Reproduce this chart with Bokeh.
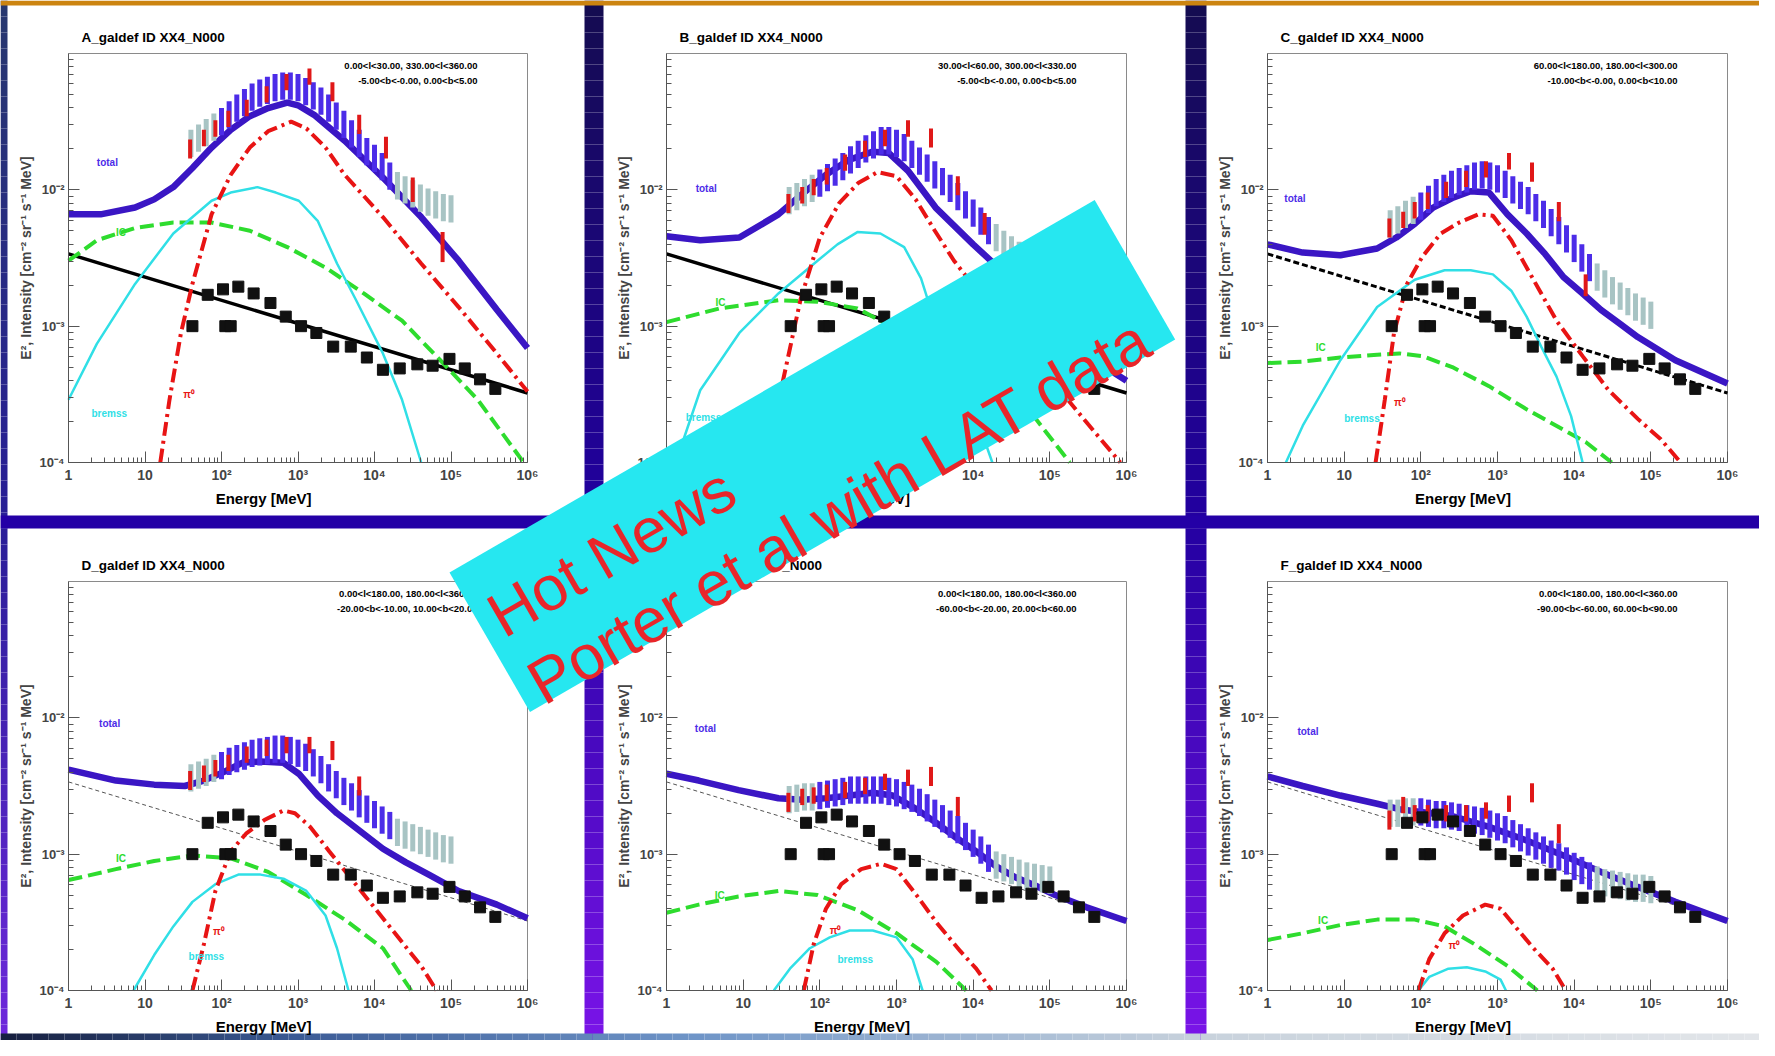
import numpy as np
from bokeh.plotting import figure
from bokeh.models import Range1d, LogScale, LogAxis, FixedTicker, CustomJSTickFormatter
from bokeh.embed import file_html
from bokeh.resources import INLINE
from bokeh.core.properties import value

# ======================= DATA (log10 values) =======================
x_tick_values = [1, 10, 100, 1e3, 1e4, 1e5, 1e6]
y_tick_values = [1e-4, 1e-3, 1e-2]

# shared across panels
iso_logE = [0.0, 6.0]
iso_logI = [-2.47, -3.49]
sq_logE = [1.62, 2.05, 2.12, 1.82, 2.02, 2.22, 2.42, 2.64, 2.84, 3.04, 3.24, 3.46, 3.69, 3.90, 4.11,
           4.33, 4.56, 4.76, 4.98, 5.18, 5.38, 5.58]
sq_logI = [-3.0, -3.0, -3.0, -2.77, -2.73, -2.71, -2.76, -2.83, -2.93, -3.0, -3.05, -3.15, -3.15, -3.23,
           -3.32, -3.31, -3.28, -3.29, -3.24, -3.31, -3.39, -3.46]
egret_logE = [1.59, 1.77, 1.92, 2.09, 2.33, 2.59, 2.85, 3.15, 3.45, 3.80, 4.15, 4.50, 4.89]
egret_err = [0.07, 0.06, 0.06, 0.06, 0.06, 0.06, 0.06, 0.06, 0.07, 0.07, 0.08, 0.09, 0.11]
lat_logE = [1.6, 1.7, 1.8, 1.9, 2.0, 2.1, 2.2, 2.3, 2.4, 2.5, 2.6, 2.7, 2.8, 2.9, 3.0, 3.1, 3.2, 3.3,
            3.4, 3.5, 3.6, 3.7, 3.8, 3.9, 4.0, 4.1, 4.2, 4.3, 4.4, 4.5, 4.6, 4.7, 4.8, 4.9, 5.0]
lat_is_grey = [1, 1, 1, 1] + [0] * 23 + [1] * 8
lat_err = 0.1

# ---- Panel A
A_total_logE = [0, 0.42, 0.87, 1.12, 1.37, 1.62, 1.87, 2.12, 2.37, 2.61, 2.86, 3.0, 3.21, 3.61, 4.11, 4.61, 5.1, 5.6, 6.0]
A_total_logI = [-2.18, -2.18, -2.13, -2.07, -1.98, -1.84, -1.69, -1.56, -1.46, -1.40, -1.36, -1.38, -1.45, -1.64, -1.91, -2.20, -2.52, -2.88, -3.16]
A_pi0_logE = [1.2, 1.32, 1.47, 1.62, 1.87, 2.12, 2.37, 2.61, 2.91, 3.11, 3.36, 3.61, 4.11, 4.61, 5.1, 5.6, 6.0]
A_pi0_logI = [-4.0, -3.54, -3.05, -2.69, -2.18, -1.89, -1.69, -1.57, -1.50, -1.55, -1.69, -1.89, -2.20, -2.54, -2.86, -3.20, -3.48]
A_brem_logE = [0, 0.37, 0.87, 1.37, 1.87, 2.12, 2.47, 2.71, 3.01, 3.26, 3.51, 3.76, 4.11, 4.36, 4.61]
A_brem_logI = [-3.54, -3.13, -2.69, -2.32, -2.08, -2.02, -1.98, -2.02, -2.08, -2.23, -2.54, -2.81, -3.20, -3.54, -4.0]
A_ic_logE = [0, 0.37, 0.87, 1.37, 1.87, 2.37, 2.86, 3.36, 3.86, 4.36, 4.86, 5.35, 5.95]
A_ic_logI = [-2.52, -2.37, -2.28, -2.24, -2.24, -2.30, -2.42, -2.57, -2.76, -2.96, -3.25, -3.54, -4.0]
A_egret = [-1.70, -1.62, -1.55, -1.48, -1.40, -1.30, -1.21, -1.17, -1.28, -1.52, -1.69, -2.00, -2.42]
A_lat = [-1.66, -1.62, -1.58, -1.54,
         -1.50, -1.45, -1.40, -1.36, -1.32, -1.29, -1.27, -1.25, -1.24, -1.24, -1.25, -1.28, -1.31, -1.35,
         -1.40, -1.46, -1.52, -1.59, -1.66, -1.72, -1.77, -1.83, -1.90,
         -1.97, -2.00, -2.03, -2.06, -2.09, -2.11, -2.13, -2.14]

# ---- Panel B
B_total_logE = [0, 0.44, 0.95, 1.46, 1.77, 2.08, 2.38, 2.69, 2.9, 3.15, 3.51, 4.0, 4.5, 5.0, 5.5, 6.0]
B_total_logI = [-2.34, -2.37, -2.35, -2.18, -2.03, -1.89, -1.78, -1.72, -1.73, -1.86, -2.13, -2.40, -2.66, -2.96, -3.22, -3.40]
B_pi0_logE = [1.3, 1.5, 1.75, 2.0, 2.25, 2.5, 2.75, 3.0, 3.25, 3.5, 3.75, 4.0, 4.5, 5.0, 5.5, 5.92]
B_pi0_logI = [-4.0, -3.45, -2.80, -2.35, -2.10, -1.95, -1.87, -1.90, -2.07, -2.30, -2.52, -2.70, -3.05, -3.38, -3.72, -4.0]
B_brem_logE = [0.12, 0.44, 0.95, 1.46, 1.97, 2.23, 2.49, 2.79, 3.10, 3.32, 3.45, 3.7, 4.0, 4.25]
B_brem_logI = [-4.0, -3.47, -3.05, -2.76, -2.52, -2.40, -2.31, -2.32, -2.42, -2.65, -2.88, -3.2, -3.6, -4.0]
B_ic_logE = [0, 0.69, 1.46, 1.97, 2.49, 2.79, 3.5, 4.2, 4.79, 5.26]
B_ic_logI = [-2.97, -2.87, -2.81, -2.82, -2.87, -2.96, -3.12, -3.35, -3.66, -4.0]
B_egret = [-2.10, -2.04, -1.98, -1.90, -1.80, -1.70, -1.62, -1.55, -1.62, -1.97, -2.25, -2.55, -2.90]
B_lat = [-2.08, -2.05, -2.02, -1.99,
         -1.95, -1.91, -1.87, -1.83, -1.78, -1.74, -1.70, -1.67, -1.64, -1.64, -1.66, -1.69, -1.74, -1.79,
         -1.84, -1.89, -1.94, -1.99, -2.05, -2.11, -2.17, -2.23, -2.30,
         -2.35, -2.40, -2.44, -2.48, -2.51, -2.54, -2.56, -2.58]

# ---- Panel C
C_total_logE = [0, 0.46, 0.95, 1.43, 1.68, 1.92, 2.16, 2.41, 2.65, 2.89, 3.13, 3.38, 3.62, 3.86, 4.11, 4.35, 4.59, 4.83, 5.32, 6.0]
C_total_logI = [-2.40, -2.46, -2.48, -2.43, -2.35, -2.25, -2.13, -2.06, -2.01, -2.02, -2.18, -2.32, -2.47, -2.64, -2.76, -2.88, -2.98, -3.08, -3.25, -3.42]
C_pi0_logE = [1.41, 1.53, 1.65, 1.82, 2.02, 2.26, 2.50, 2.75, 2.94, 3.18, 3.47, 3.77, 4.11, 4.45, 4.83, 5.13, 5.39]
C_pi0_logI = [-4.0, -3.54, -3.05, -2.69, -2.49, -2.32, -2.24, -2.18, -2.19, -2.37, -2.66, -2.96, -3.22, -3.47, -3.68, -3.83, -4.0]
C_brem_logE = [0.24, 0.46, 0.95, 1.43, 1.92, 2.31, 2.65, 2.94, 3.18, 3.38, 3.57, 3.77, 3.96, 4.11]
C_brem_logI = [-4.0, -3.73, -3.25, -2.86, -2.66, -2.59, -2.59, -2.62, -2.74, -2.93, -3.15, -3.37, -3.66, -4.0]
C_ic_logE = [0, 0.46, 0.95, 1.43, 1.72, 2.02, 2.41, 2.89, 3.38, 3.86, 4.15, 4.49]
C_ic_logI = [-3.27, -3.26, -3.23, -3.21, -3.20, -3.22, -3.30, -3.44, -3.61, -3.76, -3.85, -4.0]
C_egret = [-2.28, -2.22, -2.15, -2.08, -2.00, -1.92, -1.85, -1.79, -1.87, -2.16, -2.70]
C_lat = [-2.25, -2.22, -2.18, -2.15,
         -2.12, -2.07, -2.02, -1.99, -1.96, -1.94, -1.92, -1.90, -1.89, -1.90, -1.92, -1.96, -2.00, -2.04,
         -2.08, -2.13, -2.18, -2.24, -2.30, -2.36, -2.43, -2.50, -2.57,
         -2.64, -2.69, -2.74, -2.78, -2.82, -2.86, -2.89, -2.92]

# ---- Panel D
D_total_logE = [0, 0.62, 1.12, 1.52, 1.77, 2.02, 2.27, 2.51, 2.81, 3.01, 3.26, 3.51, 3.81, 4.11, 4.41, 4.71, 5.10, 5.60, 6.0]
D_total_logI = [-2.38, -2.46, -2.49, -2.50, -2.46, -2.40, -2.33, -2.32, -2.33, -2.41, -2.57, -2.70, -2.83, -2.96, -3.06, -3.15, -3.27, -3.37, -3.47]
D_pi0_logE = [1.62, 1.77, 1.92, 2.12, 2.32, 2.56, 2.81, 2.96, 3.16, 3.41, 3.71, 4.01, 4.31, 4.61, 4.81]
D_pi0_logI = [-4.0, -3.66, -3.27, -2.98, -2.85, -2.75, -2.68, -2.70, -2.80, -2.98, -3.19, -3.40, -3.61, -3.82, -4.0]
D_brem_logE = [0.85, 1.12, 1.37, 1.62, 1.92, 2.22, 2.51, 2.81, 3.11, 3.36, 3.51, 3.66]
D_brem_logI = [-4.0, -3.74, -3.53, -3.35, -3.22, -3.15, -3.15, -3.18, -3.27, -3.45, -3.69, -4.0]
D_ic_logE = [0, 0.62, 1.12, 1.62, 2.12, 2.61, 3.11, 3.61, 4.11, 4.48]
D_ic_logI = [-3.19, -3.11, -3.05, -3.01, -3.03, -3.13, -3.30, -3.48, -3.69, -4.0]
D_egret = [-2.46, -2.41, -2.37, -2.33, -2.27, -2.22, -2.20, -2.20, -2.24, -2.50]
D_lat = [-2.44, -2.42, -2.40, -2.37,
         -2.35, -2.32, -2.30, -2.28, -2.26, -2.25, -2.24, -2.23, -2.23, -2.24, -2.26, -2.29, -2.33, -2.38,
         -2.44, -2.49, -2.54, -2.58, -2.63, -2.67, -2.71, -2.75, -2.79,
         -2.84, -2.86, -2.88, -2.90, -2.92, -2.94, -2.96, -2.97]

# ---- Panel E
E_total_logE = [0, 0.42, 0.94, 1.46, 1.77, 2.08, 2.39, 2.69, 2.95, 3.26, 3.52, 3.78, 4.04, 4.30, 4.55, 4.81, 5.07, 5.48, 6.0]
E_total_logI = [-2.41, -2.46, -2.53, -2.59, -2.60, -2.59, -2.57, -2.55, -2.57, -2.67, -2.77, -2.88, -2.98, -3.09, -3.17, -3.23, -3.30, -3.39, -3.49]
E_pi0_logE = [1.79, 1.92, 2.08, 2.28, 2.54, 2.80, 3.0, 3.26, 3.52, 3.83, 4.04, 4.24]
E_pi0_logI = [-4.0, -3.66, -3.40, -3.22, -3.11, -3.07, -3.11, -3.30, -3.50, -3.71, -3.84, -4.0]
E_brem_logE = [1.40, 1.61, 1.87, 2.13, 2.39, 2.69, 3.0, 3.21, 3.34]
E_brem_logI = [-4.0, -3.84, -3.69, -3.61, -3.56, -3.56, -3.61, -3.77, -4.0]
E_ic_logE = [0, 0.42, 0.94, 1.46, 1.97, 2.49, 3.0, 3.52, 3.91]
E_ic_logI = [-3.43, -3.37, -3.31, -3.27, -3.30, -3.41, -3.58, -3.79, -4.0]
E_egret = [-2.62, -2.58, -2.57, -2.55, -2.53, -2.50, -2.47, -2.44, -2.43, -2.65]
E_lat = [-2.60, -2.59, -2.58, -2.58,
         -2.57, -2.56, -2.55, -2.54, -2.53, -2.53, -2.53, -2.53, -2.53, -2.54, -2.55, -2.57, -2.59, -2.62,
         -2.66, -2.70, -2.74, -2.78, -2.82, -2.87, -2.92, -2.97, -3.03,
         -3.08, -3.10, -3.12, -3.14, -3.16, -3.17, -3.18, -3.19]

# ---- Panel F
F_total_logE = [0, 0.46, 0.95, 1.43, 1.72, 2.41, 2.89, 3.38, 3.86, 4.35, 4.83, 5.32, 6.0]
F_total_logI = [-2.43, -2.50, -2.57, -2.63, -2.67, -2.72, -2.80, -2.90, -3.01, -3.13, -3.24, -3.35, -3.49]
F_pi0_logE = [1.97, 2.11, 2.31, 2.55, 2.84, 3.04, 3.23, 3.47, 3.72, 3.89]
F_pi0_logI = [-4.0, -3.77, -3.58, -3.45, -3.37, -3.40, -3.53, -3.69, -3.84, -4.0]
F_brem_logE = [1.97, 2.11, 2.36, 2.60, 2.84, 3.04, 3.11]
F_brem_logI = [-4.0, -3.90, -3.84, -3.83, -3.86, -3.92, -4.0]
F_ic_logE = [0, 0.46, 0.95, 1.43, 1.92, 2.31, 2.70, 3.13, 3.52]
F_ic_logI = [-3.63, -3.58, -3.52, -3.48, -3.48, -3.53, -3.66, -3.82, -4.0]
F_egret = [-2.75, -2.64, -2.70, -2.70, -2.70, -2.70, -2.68, -2.63, -2.55, -2.85]
F_lat = [-2.70, -2.70, -2.69, -2.69,
         -2.69, -2.70, -2.71, -2.71, -2.72, -2.73, -2.74, -2.75, -2.76, -2.78, -2.80, -2.82, -2.85, -2.88,
         -2.91, -2.94, -2.97, -3.00, -3.02, -3.05, -3.09, -3.12, -3.16,
         -3.19, -3.21, -3.22, -3.23, -3.24, -3.25, -3.25, -3.26]

l_text = {"A": "0.00<l<30.00, 330.00<l<360.00", "B": "30.00<l<60.00, 300.00<l<330.00",
          "C": "60.00<l<180.00, 180.00<l<300.00", "D": "0.00<l<180.00, 180.00<l<360.00",
          "E": "0.00<l<180.00, 180.00<l<360.00", "F": "0.00<l<180.00, 180.00<l<360.00"}
b_text = {"A": "-5.00<b<-0.00, 0.00<b<5.00", "B": "-5.00<b<-0.00, 0.00<b<5.00",
          "C": "-10.00<b<-0.00, 0.00<b<10.00", "D": "-20.00<b<-10.00, 10.00<b<20.00",
          "E": "-60.00<b<-20.00, 20.00<b<60.00", "F": "-90.00<b<-60.00, 60.00<b<90.00"}

# curve label anchors (log10 E, log10 I)
label_pos = {
    "A": {"total": (0.37, -1.80), "IC": (0.62, -2.31), "bremss": (0.30, -3.64), "pi0": (1.50, -3.50)},
    "B": {"total": (0.38, -1.99), "IC": (0.64, -2.83), "bremss": (0.25, -3.67), "pi0": (1.50, -3.60)},
    "C": {"total": (0.22, -2.06), "IC": (0.63, -3.16), "bremss": (1.00, -3.68), "pi0": (1.65, -3.56)},
    "D": {"total": (0.40, -2.04), "IC": (0.62, -3.03), "bremss": (1.57, -3.75), "pi0": (1.89, -3.57)},
    "E": {"total": (0.37, -2.08), "IC": (0.63, -3.30), "bremss": (2.23, -3.77), "pi0": (2.13, -3.56)},
    "F": {"total": (0.39, -2.10), "IC": (0.66, -3.49), "pi0": (2.36, -3.67)},
}

G = globals()

# ======================= LAYOUT / STYLE =======================
FONT = "Liberation Sans"
W, H = 1759, 1040
frames = {"A": (68, 527, 53, 462), "B": (666, 1126, 53, 462), "C": (1267, 1727, 53, 462),
          "D": (68, 527, 581, 990), "E": (666, 1126, 581, 990), "F": (1267, 1727, 581, 990)}
iso_style = {"A": ("#000000", 3.5, "solid"), "B": ("#000000", 3.5, "solid"), "C": ("#000000", 3.0, "6 3"),
             "D": ("#555555", 1.0, "4 3"), "E": ("#555555", 1.0, "4 3"), "F": ("#555555", 1.0, "4 3")}

C_TOTAL = "#3a16c4"
C_PI0 = "#e81414"
C_IC = "#2edc2e"
C_BREM = "#30dfe6"
C_LATB = "#4c2ce8"
C_LATG = "#a8c4c4"
C_EGRET = "#e01818"

p = figure(width=W, height=H, x_range=Range1d(0, W), y_range=Range1d(H, 0),
           x_axis_location=None, y_axis_location=None, toolbar_location=None,
           output_backend="svg", min_border=0, background_fill_color="white",
           border_fill_color="white", outline_line_color=None)
p.grid.visible = False


def lerp_color(stops, t):
    for (t0, c0), (t1, c1) in zip(stops[:-1], stops[1:]):
        if t0 <= t <= t1:
            f = (t - t0) / (t1 - t0)
            return "#%02x%02x%02x" % tuple(int(round(a + (b - a) * f)) for a, b in zip(c0, c1))
    return "#%02x%02x%02x" % tuple(stops[-1][1])


# --- slide decoration: dividers, edges, strips
vstops = [(0, (20, 12, 80)), (515, (34, 0, 160)), (1040, (122, 20, 232))]
ys = np.arange(0, 1040, 16)
for (x0, x1) in [(584, 603), (1185, 1206)]:
    p.quad(left=x0, right=x1, top=ys, bottom=ys + 16,
           fill_color=[lerp_color(vstops, y + 8) for y in ys], line_color=None)
lstops = [(0, (40, 56, 110)), (515, (40, 30, 150)), (1040, (110, 40, 220))]
p.quad(left=0, right=7, top=ys, bottom=ys + 16,
       fill_color=[lerp_color(lstops, y + 8) for y in ys], line_color=None)
p.quad(left=0, right=W, top=515, bottom=528, fill_color="#2400a6", line_color=None)
p.quad(left=0, right=W, top=0, bottom=5, fill_color="#cc8410", line_color=None)
hstops = [(0, (22, 30, 62)), (300, (60, 92, 150)), (700, (112, 150, 200)), (1200, (200, 210, 220)), (1759, (226, 229, 233))]
xs_strip = np.arange(0, W, 16)
p.quad(left=xs_strip, right=xs_strip + 16, top=1033, bottom=1040,
       fill_color=[lerp_color(hstops, x + 8) for x in xs_strip], line_color=None)

# --- panel ranges: each panel's log axes mapped onto its own box of the canvas
ex_x, ex_y, sc_x, sc_y = {}, {}, {}, {}
for k, (l, r, t, b) in frames.items():
    sx = (r - l) / 6.0
    sy = (b - t) / 3.0
    ex_x[k] = Range1d(10 ** (0 - l / sx), 10 ** (6 + (W - r) / sx))
    ex_y[k] = Range1d(10 ** (-4 - (H - b) / sy), 10 ** (-1 + t / sy))
    sc_x[k] = LogScale()
    sc_y[k] = LogScale()
p.extra_x_ranges = ex_x
p.extra_y_ranges = ex_y
p.extra_x_scales = sc_x
p.extra_y_scales = sc_y

fmt_code = """
const e = Math.round(Math.log10(tick));
if (e === 0) return "1";
if (e === 1) return "10";
const sup = {"-":"\u207b","0":"\u2070","1":"\u00b9","2":"\u00b2","3":"\u00b3","4":"\u2074","5":"\u2075","6":"\u2076","7":"\u2077","8":"\u2078","9":"\u2079"};
return "10" + String(e).split("").map(c => sup[c]).join("");
"""
x_minor = [m * 10.0 ** e for e in range(0, 6) for m in range(2, 10)]
y_minor = [m * 10.0 ** e for e in range(-4, -1) for m in range(2, 10)]

T = lambda a: 10 ** np.asarray(a, dtype=float)

for k in frames:
    rn = dict(x_range_name=k, y_range_name=k)
    p.quad(left=[1], right=[1e6], bottom=[1e-4], top=[0.1], fill_color=None, line_color="#8a8a8a", line_width=1, **rn)

    c, w, d = iso_style[k]
    p.line(T(iso_logE), T(iso_logI), line_color=c, line_width=w, line_dash=d, **rn)
    p.line(T(G[k + "_ic_logE"]), T(G[k + "_ic_logI"]), line_color=C_IC, line_width=4, line_dash="14 6", **rn)
    p.line(T(G[k + "_brem_logE"]), T(G[k + "_brem_logI"]), line_color=C_BREM, line_width=2.5, **rn)
    p.line(T(G[k + "_pi0_logE"]), T(G[k + "_pi0_logI"]), line_color=C_PI0, line_width=4, line_dash="14 5 3 5", **rn)
    p.line(T(G[k + "_total_logE"]), T(G[k + "_total_logI"]), line_color=C_TOTAL, line_width=6.5, **rn)

    lat = np.asarray(G[k + "_lat"])
    le = np.asarray(lat_logE)
    grey = np.asarray(lat_is_grey) == 1
    for mask, col in [(grey, C_LATG), (~grey, C_LATB)]:
        p.segment(x0=T(le[mask]), x1=T(le[mask]), y0=T(lat[mask] - lat_err), y1=T(lat[mask] + lat_err),
                  line_color=col, line_width=5, **rn)
    eg = np.asarray(G[k + "_egret"])
    ee = np.asarray(egret_logE[:len(eg)])
    er = np.asarray(egret_err[:len(eg)])
    p.segment(x0=T(ee), x1=T(ee), y0=T(eg - er), y1=T(eg + er), line_color=C_EGRET, line_width=4, **rn)
    p.scatter(T(sq_logE), T(sq_logI), marker="square", size=11, fill_color="#111111", line_color="#111111", **rn)

    lab_style = {"total": ("total", C_LATB), "IC": ("IC", C_IC), "bremss": ("bremss", C_BREM), "pi0": ("\u03c0\u2070", C_PI0)}
    for key, (lx, ly) in label_pos[k].items():
        txt, col = lab_style[key]
        p.text(x=[10 ** lx], y=[10 ** ly], text=[txt], text_color=col, text_font=value(FONT),
               text_font_style="bold", text_font_size="10px", text_baseline="middle", **rn)

    p.text(x=[1], y=[0.1], text=[k + "_galdef ID XX4_N000"], x_offset=13, y_offset=-16,
           text_font=value(FONT), text_font_style="bold", text_font_size="13.5px",
           text_baseline="middle", text_color="#000000", **rn)
    p.text(x=[1e6, 1e6], y=[0.1, 0.1], text=[l_text[k], b_text[k]], x_offset=-50, y_offset=[12, 27],
           text_font=value(FONT), text_font_style="bold", text_font_size="9.5px",
           text_baseline="middle", text_align="right", text_color="#000000", **rn)
    p.text(x=[10 ** 2.55], y=[1e-4], text=["Energy [MeV]"], y_offset=36, text_font=value(FONT),
           text_font_style="bold", text_font_size="15px", text_baseline="middle", text_align="center",
           text_color="#000000", **rn)

    xa = LogAxis(x_range_name=k, y_range_name=k, fixed_location=1e-4, bounds=(1, 1e6),
                 ticker=FixedTicker(ticks=x_tick_values, minor_ticks=x_minor),
                 formatter=CustomJSTickFormatter(code=fmt_code),
                 major_tick_in=11, major_tick_out=0, minor_tick_in=5, minor_tick_out=0,
                 axis_line_color="#555555", major_tick_line_color="#555555", minor_tick_line_color="#555555",
                 major_label_text_font=FONT, major_label_text_font_style="bold",
                 major_label_text_font_size="14px", major_label_standoff=4)
    p.add_layout(xa, "below")
    ya = LogAxis(x_range_name=k, y_range_name=k, fixed_location=1, bounds=(1e-4, 0.1),
                 ticker=FixedTicker(ticks=y_tick_values, minor_ticks=y_minor),
                 formatter=CustomJSTickFormatter(code=fmt_code),
                 major_tick_in=11, major_tick_out=0, minor_tick_in=5, minor_tick_out=0,
                 axis_line_color="#555555", major_tick_line_color="#555555", minor_tick_line_color="#555555",
                 major_label_text_font=FONT, major_label_text_font_style="bold",
                 major_label_text_font_size="13px", major_label_standoff=4,
                 axis_label="E\u00b2, Intensity [cm\u207b\u00b2 sr\u207b\u00b9 s\u207b\u00b9 MeV]",
                 axis_label_text_font=FONT, axis_label_text_font_style="bold",
                 axis_label_text_font_size="14px", axis_label_standoff=3)
    p.add_layout(ya, "left")

# --- "Hot News" banner (drawn above everything)
ang = np.deg2rad(30.0)
ox, oy = 449.0, 572.0
L, TH = 745.0, 161.0
ux, uy = np.cos(ang), -np.sin(ang)
vx, vy = np.sin(ang), np.cos(ang)
bx = [ox, ox + L * ux, ox + L * ux + TH * vx, ox + TH * vx]
by = [oy, oy + L * uy, oy + L * uy + TH * vy, oy + TH * vy]
p.patch(bx, by, fill_color="#26e7f0", line_color=None, level="overlay")
lines = ["Hot News", "Porter et al with LAT data"]
u_pos = [14.0, 15.0]
v_pos = [63.0, 141.0]
tx = [ox + u * ux + v * vx for u, v in zip(u_pos, v_pos)]
ty = [oy + u * uy + v * vy for u, v in zip(u_pos, v_pos)]
p.text(x=tx, y=ty, text=lines, angle=ang, text_color="#e8262a", text_font=value(FONT),
       text_font_size="63px", text_baseline="alphabetic", text_align="left", level="overlay")

open("out.html", "w").write(file_html(p, INLINE))
